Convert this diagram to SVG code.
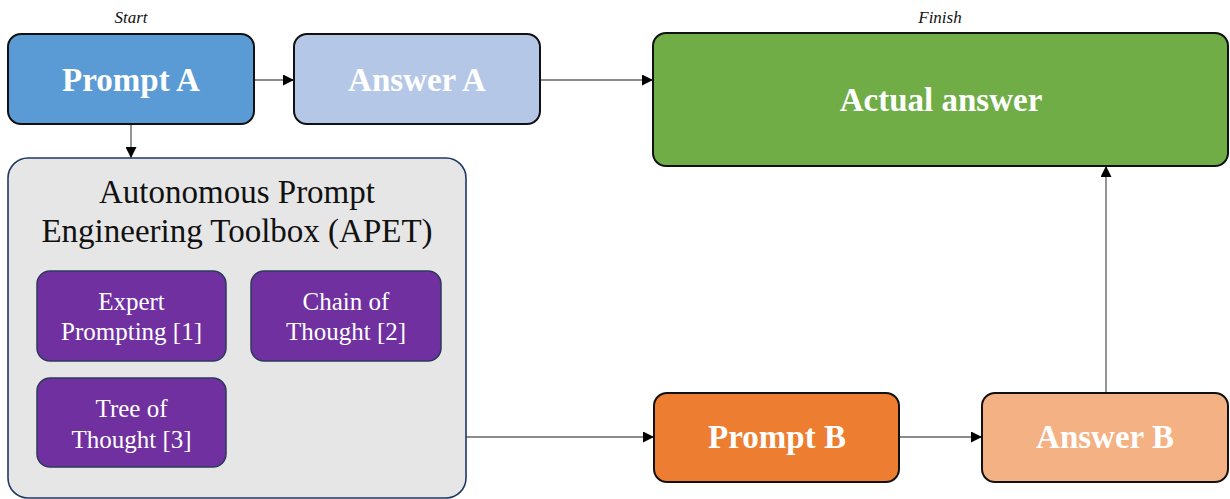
<svg xmlns="http://www.w3.org/2000/svg" width="1230" height="499" viewBox="0 0 1230 499">
<defs>
<marker id="arr" markerUnits="userSpaceOnUse" markerWidth="11" markerHeight="11" refX="11" refY="5.5" orient="auto">
<path d="M0,0 L11,5.5 L0,11 z" fill="#000"/>
</marker>
<style>
.node{stroke:#111;stroke-width:2}
.big{font-family:"Liberation Serif","Times New Roman",serif;font-weight:bold;font-size:33px;fill:#fff;text-anchor:middle}
.sub{font-family:"Liberation Serif","Times New Roman",serif;font-size:25px;fill:#fff;text-anchor:middle}
.title{font-family:"Liberation Serif","Times New Roman",serif;font-size:33px;fill:#111;text-anchor:middle}
.lab{font-family:"Liberation Serif","Times New Roman",serif;font-style:italic;font-size:17px;fill:#111;text-anchor:middle}
.tool{fill:#7030A0;stroke:#2B3A5C;stroke-width:1.5}
.conn{stroke:#666;stroke-width:1.4;fill:none;marker-end:url(#arr)}
</style>
</defs>
<rect width="1230" height="499" fill="#fff"/>
<text class="lab" x="131" y="23">Start</text>
<text class="lab" x="940" y="23">Finish</text>
<g id="connectors">
<line class="conn" x1="254" y1="80" x2="294" y2="80"/>
<line class="conn" x1="540" y1="80" x2="653" y2="80"/>
<line class="conn" x1="131" y1="124" x2="131" y2="158"/>
<line class="conn" x1="466" y1="437" x2="654" y2="437"/>
<line class="conn" x1="899" y1="437" x2="982" y2="437"/>
<line class="conn" x1="1106" y1="393" x2="1106" y2="166"/>
</g>
<g id="promptA">
<rect class="node" x="8" y="34" width="246" height="90" rx="13" fill="#5B9BD5"/>
<text class="big" x="131" y="91">Prompt A</text>
</g>
<g id="answerA">
<rect class="node" x="294" y="34" width="246" height="90" rx="13" fill="#B4C7E7"/>
<text class="big" x="417" y="91">Answer A</text>
</g>
<g id="actual">
<rect class="node" x="653" y="33" width="575" height="133" rx="13" fill="#70AD47"/>
<text class="big" x="941" y="111">Actual answer</text>
</g>
<g id="apet">
<rect x="8" y="158" width="458" height="340" rx="20" fill="#E6E6E6" stroke="#1F3864" stroke-width="1.6"/>
<text class="title" x="237" y="203">Autonomous Prompt</text>
<text class="title" x="237" y="242">Engineering Toolbox (APET)</text>
</g>
<g id="expert">
<rect class="tool" x="37" y="271" width="189" height="90" rx="13"/>
<text class="sub" x="131.5" y="310">Expert</text>
<text class="sub" x="131.5" y="340">Prompting [1]</text>
</g>
<g id="chain">
<rect class="tool" x="251" y="271" width="190" height="90" rx="13"/>
<text class="sub" x="346" y="310">Chain of</text>
<text class="sub" x="346" y="340">Thought [2]</text>
</g>
<g id="tree">
<rect class="tool" x="37" y="378" width="189" height="89" rx="13"/>
<text class="sub" x="131.5" y="417">Tree of</text>
<text class="sub" x="131.5" y="448">Thought [3]</text>
</g>
<g id="promptB">
<rect class="node" x="654" y="393" width="245" height="89" rx="13" fill="#ED7D31"/>
<text class="big" x="777" y="448">Prompt B</text>
</g>
<g id="answerB">
<rect class="node" x="982" y="393" width="246" height="89" rx="13" fill="#F4B183"/>
<text class="big" x="1105" y="448">Answer B</text>
</g>
</svg>
